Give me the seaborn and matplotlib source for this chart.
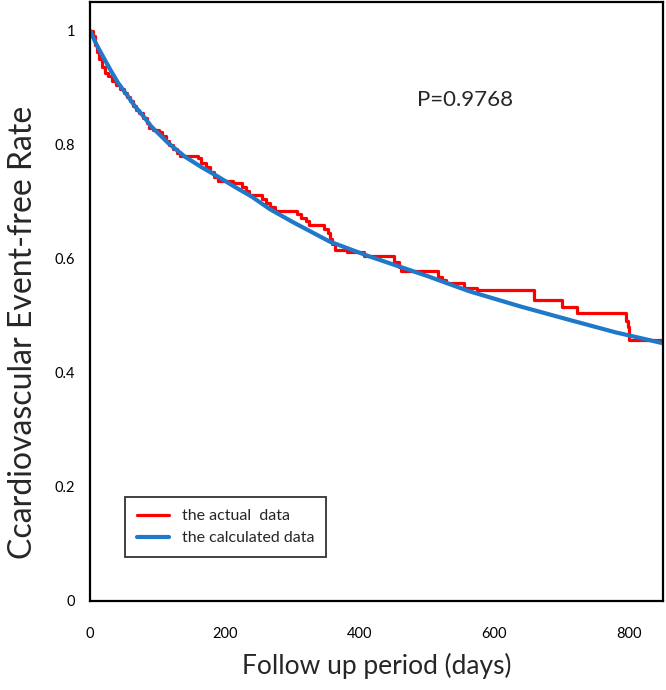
import numpy as np
import pandas as pd
import matplotlib
matplotlib.use("Agg")
import matplotlib.pyplot as plt
import seaborn as sns

# actual (Kaplan-Meier style) data
actual_days = [0, 5, 8, 11, 14, 18, 22, 27, 33, 38, 44, 50, 55, 59, 64, 68, 73, 79, 84, 88,
               93, 102, 107, 113, 118, 124, 129, 134, 160, 165, 172, 178, 184, 190, 212, 225,
               231, 236, 255, 262, 268, 274, 307, 314, 320, 325, 348, 353, 357, 360, 364, 381,
               407, 452, 459, 462, 516, 522, 529, 555, 575, 659, 701, 723, 796, 798, 800, 850]
actual_rate = [1.0, 0.99, 0.975, 0.962, 0.95, 0.937, 0.926, 0.92, 0.912, 0.905, 0.898, 0.891,
               0.883, 0.876, 0.868, 0.861, 0.855, 0.847, 0.838, 0.83, 0.826, 0.822, 0.815,
               0.807, 0.80, 0.793, 0.786, 0.781, 0.776, 0.768, 0.76, 0.752, 0.744, 0.737,
               0.732, 0.725, 0.718, 0.711, 0.705, 0.698, 0.69, 0.683, 0.678, 0.672, 0.666,
               0.66, 0.653, 0.645, 0.635, 0.626, 0.616, 0.611, 0.604, 0.594, 0.585, 0.578,
               0.568, 0.563, 0.558, 0.549, 0.545, 0.527, 0.516, 0.505, 0.49, 0.48, 0.458, 0.458]

# calculated curve
calc_days = [0, 10, 22, 32, 42, 55, 67, 80, 91, 104, 116, 141, 165, 190, 215, 240, 267,
             300, 356, 415, 500, 563, 640, 711, 780, 850]
calc_rate = [1.0, 0.975, 0.949, 0.928, 0.908, 0.887, 0.867, 0.849, 0.832, 0.817, 0.803,
             0.779, 0.761, 0.744, 0.726, 0.709, 0.687, 0.665, 0.630, 0.604, 0.570, 0.543,
             0.516, 0.493, 0.471, 0.452]

p_text = "P=0.9768"

actual = pd.DataFrame({"days": actual_days, "rate": actual_rate})
calc = pd.DataFrame({"days": calc_days, "rate": calc_rate})

sns.set_style("white")
plt.rcParams["font.family"] = ["Lato", "DejaVu Sans"]

fig = plt.figure(figsize=(6.66, 6.90), dpi=100)
ax = fig.add_axes([0.135, 0.129, 0.860, 0.868])

sns.lineplot(data=actual, x="days", y="rate", ax=ax, color="#FF0000", lw=2.3,
             drawstyle="steps-post", label="the actual  data")
sns.lineplot(data=calc, x="days", y="rate", ax=ax, color="#1F78C8", lw=3,
             label="the calculated data")

ax.set_xlim(0, 850)
ax.set_ylim(0, 1.05)
ax.set_xticks([0, 200, 400, 600, 800])
ax.set_yticks([0, 0.2, 0.4, 0.6, 0.8, 1.0])
ax.set_yticklabels(["0", "0.2", "0.4", "0.6", "0.8", "1"])
ax.tick_params(direction="inout", length=7, width=1.3, labelsize=10.5, colors="black")
ax.tick_params(axis="x", pad=15)
ax.tick_params(axis="y", pad=7)
for s in ax.spines.values():
    s.set_color("black")
    s.set_linewidth(1.6)

ax.set_xlabel("Follow up period (days)", fontsize=19, labelpad=9)
ax.set_ylabel("Ccardiovascular Event-free Rate", fontsize=23)
ax.yaxis.set_label_coords(-0.09, 0.449)
ax.text(486, 0.879, p_text, fontsize=16, ha="left", va="center")

leg = ax.legend(loc="lower left", bbox_to_anchor=(0.061, 0.073), borderaxespad=0,
                fontsize=11.5, frameon=True, fancybox=False, edgecolor="black",
                handlelength=2.0, borderpad=0.75, labelspacing=0.5)
leg.get_frame().set_linewidth(1.3)

fig.savefig("out.png", dpi=100)
